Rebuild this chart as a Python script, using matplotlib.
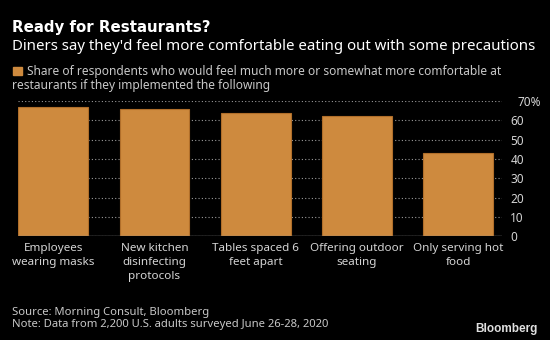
import matplotlib
matplotlib.use("Agg")
import matplotlib.pyplot as plt
import matplotlib.transforms as mtransforms

# survey results (share of respondents, %)
measures = [
    "Employees\nwearing masks",
    "New kitchen\ndisinfecting\nprotocols",
    "Tables spaced 6\nfeet apart",
    "Offering outdoor\nseating",
    "Only serving hot\nfood",
]
share = [67, 66, 64, 62, 43]
yticks = [0, 10, 20, 30, 40, 50, 60, 70]
ytick_labels = ["0", "10", "20", "30", "40", "50", "60", "70%"]

bar_color = "#CE8A3E"
bg = "black"
W, H = 550, 340

plt.rcParams["font.family"] = ["Noto Sans", "DejaVu Sans"]

fig = plt.figure(figsize=(5.5, 3.4), dpi=100, facecolor=bg)
ax = fig.add_axes([18.3 / W, 1 - 236.3 / H, (502 - 18.3) / W, 135.3 / H])
ax.set_facecolor(bg)

x = list(range(len(measures)))
ax.bar(x, share, width=0.69, color=bar_color, edgecolor="#B06E2A", linewidth=0.8, zorder=3)
ax.axhline(0, color="#8a8a8a", linewidth=1, zorder=4)

ax.set_xlim(-0.345, 4.434)
ax.set_ylim(0, 70)
ax.set_xticks(x)
ax.set_xticklabels(measures, color="#d4d4d4", fontsize=8.4, linespacing=1.37)
ax.tick_params(axis="x", length=0, pad=5)

ax.yaxis.tick_right()
ax.set_yticks(yticks)
ax.set_yticklabels(ytick_labels, color="#d4d4d4", fontsize=8.5)
ax.tick_params(axis="y", length=0, pad=6)
# the percent label sits a little further right
lbl = ax.get_yticklabels()[-1]
lbl.set_transform(lbl.get_transform() + mtransforms.ScaledTranslation(7 / 100, 0, fig.dpi_scale_trans))

ax.grid(axis="y", color="#9a9a9a", linestyle=(0, (1, 2)), linewidth=0.8, zorder=0)
for s in ax.spines.values():
    s.set_visible(False)

# headings
fig.text(12 / W, 1 - 31.7 / H, "Ready for Restaurants?", color="white",
         fontsize=10.8, fontweight="bold", va="baseline", family="DejaVu Sans")
fig.text(12 / W, 1 - 50 / H,
         "Diners say they'd feel more comfortable eating out with some precautions",
         color="white", fontsize=10.8, va="baseline")

# legend key
fig.patches.append(plt.Rectangle((13 / W, 1 - 75.3 / H), 8.7 / W, 8 / H,
                                 transform=fig.transFigure, color=bar_color, figure=fig))
fig.text(26.7 / W, 1 - 75 / H,
         "Share of respondents who would feel much more or somewhat more comfortable at",
         color="#c8c8c8", fontsize=8.6, va="baseline")
fig.text(12 / W, 1 - 89 / H, "restaurants if they implemented the following",
         color="#c8c8c8", fontsize=8.6, va="baseline")

# footer
fig.text(12 / W, 1 - 312 / H, "Source: Morning Consult, Bloomberg",
         color="#c8c8c8", fontsize=8.1, va="center")
fig.text(12 / W, 1 - 324.5 / H, "Note: Data from 2,200 U.S. adults surveyed June 26-28, 2020",
         color="#c8c8c8", fontsize=8.1, va="center")
fig.text(538 / W, 1 - 329 / H, "Bloomberg", color="#e0e0e0",
         fontsize=8.5, fontweight="bold", ha="right", va="center", family="Liberation Sans")

fig.savefig("out.png", dpi=100, facecolor=bg)
